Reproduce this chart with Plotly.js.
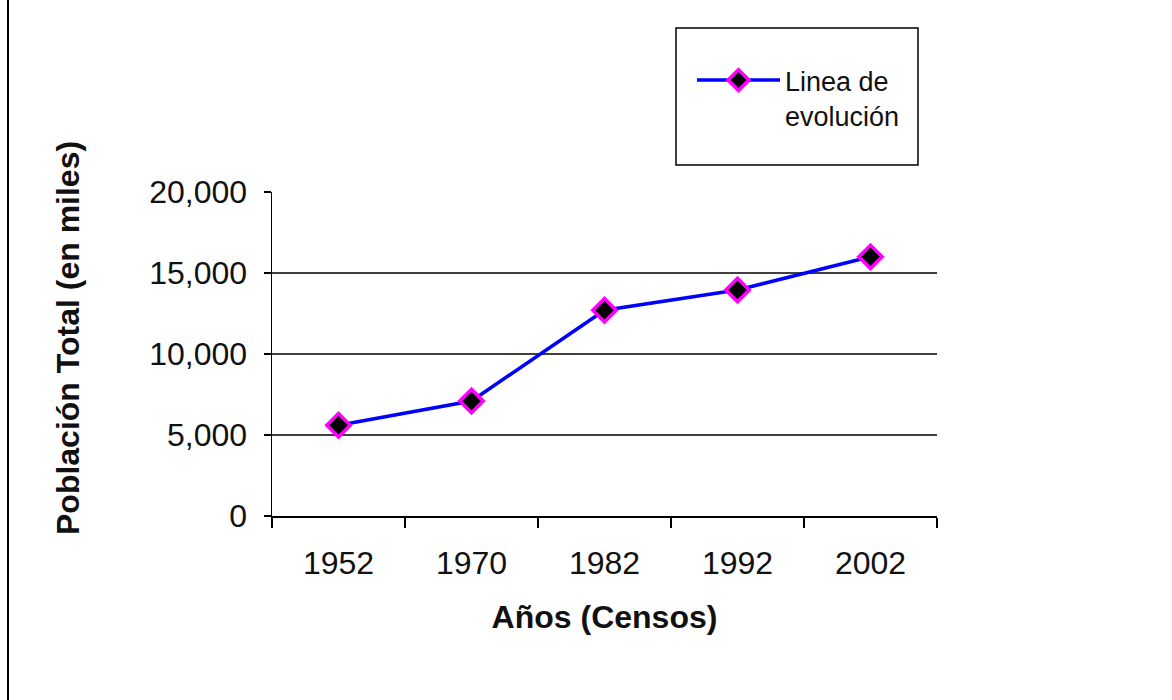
<!DOCTYPE html>
<html>
<head>
<meta charset="utf-8">
<script src="https://cdn.plot.ly/plotly-3.0.1.min.js"></script>
<style>
  html, body { margin: 0; padding: 0; background: #ffffff; }
  #chart { width: 1172px; height: 700px; }
</style>
</head>
<body>
<div id="chart"></div>
<script>
// ---- Data ----
const years = ["1952", "1970", "1982", "1992", "2002"];
const population = [5600, 7100, 12700, 13950, 16000];   // en miles
const yTickValues = [0, 5000, 10000, 15000, 20000];
const gridValues = [5000, 10000, 15000];
const seriesName = "Linea de<br>evolución";
const xTitle = "Años (Censos)";
const yTitle = "Población Total (en miles)";

// ---- Layout geometry (pixels) ----
const W = 1172, H = 700;
const plotL = 272, plotR = 937, plotT = 192, plotB = 516;
const pw = plotR - plotL, ph = plotB - plotT;
const px = (x) => (x - plotL) / pw;   // pixel -> paper x
const py = (y) => (plotB - y) / ph;   // pixel -> paper y

const FONT = "Liberation Sans, Arial, sans-serif";
const TXT = "#111111";

const trace = {
  type: "scatter",
  mode: "lines+markers",
  x: years,
  y: population,
  name: seriesName,
  line: { color: "#0000ff", width: 3.5 },
  marker: {
    symbol: "diamond",
    size: 18,
    color: "#000000",
    line: { color: "#ff00ff", width: 3.5 }
  },
  cliponaxis: false
};

const shapes = [];
gridValues.forEach(v => shapes.push({
  type: "line", xref: "paper", yref: "y", x0: 0, x1: 1, y0: v, y1: v,
  line: { color: "#000000", width: 1.5 }, layer: "below"
}));
// page border line on the left
shapes.push({
  type: "line", xref: "paper", yref: "paper",
  x0: px(8), x1: px(8), y0: py(0), y1: py(H),
  line: { color: "#000000", width: 2 }
});
// legend frame
shapes.push({
  type: "rect", xref: "paper", yref: "paper",
  x0: px(676), x1: px(918), y0: py(28), y1: py(165),
  line: { color: "#000000", width: 1.5 }, fillcolor: "rgba(0,0,0,0)"
});

const layout = {
  width: W, height: H,
  margin: { l: plotL, r: W - plotR, t: plotT, b: H - plotB, pad: 0 },
  paper_bgcolor: "#ffffff",
  plot_bgcolor: "#ffffff",
  font: { family: FONT, color: TXT, size: 32 },
  showlegend: true,
  legend: {
    x: px(692), y: py(56), xanchor: "left", yanchor: "top",
    bgcolor: "rgba(0,0,0,0)", borderwidth: 0,
    font: { family: FONT, size: 27, color: TXT },
    itemwidth: 83,
    valign: "top"
  },
  xaxis: {
    type: "category",
    categoryorder: "array",
    categoryarray: years,
    range: [-0.5, years.length - 0.5],
    showline: true, linecolor: "#000000", linewidth: 1.5,
    ticks: "outside", tickson: "boundaries", ticklen: 10, tickwidth: 1.5, tickcolor: "#000000",
    showgrid: false, zeroline: false,
    tickfont: { family: FONT, size: 32, color: TXT },
    ticklabelstandoff: 18,
    title: { text: xTitle, font: { family: FONT, size: 32, color: TXT, weight: "bold" }, standoff: 25 },
    fixedrange: true
  },
  yaxis: {
    range: [0, 20000],
    tickvals: yTickValues,
    tickformat: ",d",
    showline: true, linecolor: "#000000", linewidth: 1.5,
    ticks: "outside", ticklen: 7, tickwidth: 1.5, tickcolor: "#000000",
    showgrid: false, zeroline: false,
    tickfont: { family: FONT, size: 32, color: TXT },
    ticklabelstandoff: 10,
    fixedrange: true
  },
  shapes: shapes,
  annotations: [{
    text: yTitle, xref: "paper", yref: "paper",
    x: px(68), y: py(338), xanchor: "center", yanchor: "middle",
    textangle: -90, showarrow: false,
    font: { family: FONT, size: 32, color: TXT, weight: "bold" }
  }]
};

Plotly.newPlot("chart", [trace], layout, { displayModeBar: false, staticPlot: true });
</script>
</body>
</html>
